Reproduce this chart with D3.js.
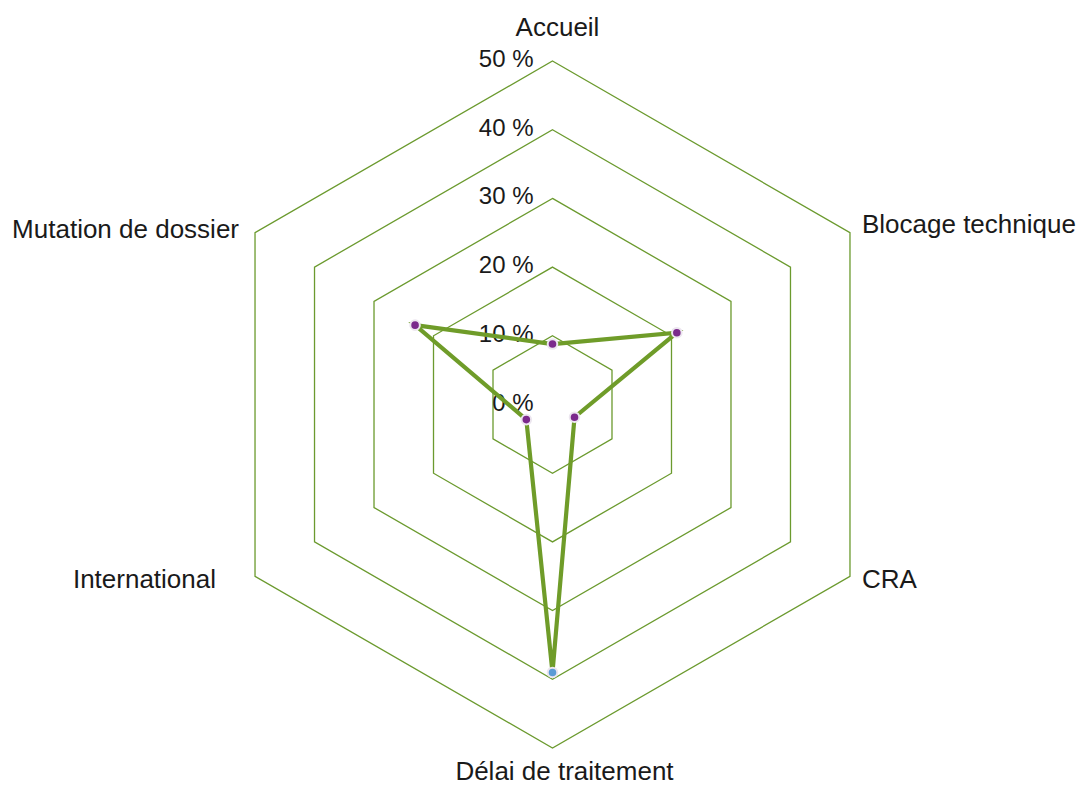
<!DOCTYPE html>
<html><head><meta charset="utf-8">
<script src="https://cdn.jsdelivr.net/npm/d3@7"></script>
<style>
html,body{margin:0;padding:0;background:#fff;}
svg{display:block;font-family:"Liberation Sans",Arial,sans-serif;}
</style></head>
<body>
<svg id="chart" width="1079" height="785"></svg>
<script>
const categories = ["Accueil","Blocage technique","CRA","Délai de traitement","International","Mutation de dossier"];
const values = [8.8, 20.9, 3.7, 39.0, 4.4, 23.1];
const tickValues = [0, 10, 20, 30, 40, 50];
const tickLabels = ["0 %","10 %","20 %","30 %","40 %","50 %"];
const highlightIndex = 3;

const svg = d3.select("#chart");
const cx = 552.5, cy = 404.5, R = 343.5;
const r = d3.scaleLinear().domain([0, 50]).range([0, R]);
const angle = d3.scaleLinear().domain([0, categories.length]).range([0, 2*Math.PI]);
const pt = (i, v) => [cx + r(v)*Math.sin(angle(i)), cy - r(v)*Math.cos(angle(i))];

const gridColor = "#6b9a2e", lineColor = "#6f9c29";

// grid hexagons
const g = svg.append("g");
g.selectAll("path.grid").data(tickValues.filter(t=>t>0)).enter().append("path")
  .attr("d", t => d3.line()(categories.map((c,i)=>pt(i,t))) + "Z")
  .attr("fill","none").attr("stroke",gridColor).attr("stroke-width",1.3);

// tick labels
g.selectAll("text.tick").data(tickValues).enter().append("text")
  .attr("x", cx - 19).attr("y", t => cy - r(t) + 6)
  .attr("text-anchor","end").attr("font-size",24).attr("fill","#1a1a1a")
  .text((t,i)=>tickLabels[i]);

// data line
const poly = categories.map((c,i)=>pt(i, values[i]));
g.append("path").attr("d", d3.line()(poly) + "Z")
  .attr("fill","none").attr("stroke",lineColor).attr("stroke-width",4.2)
  .attr("stroke-linejoin","miter");

// points
g.selectAll("circle").data(values).enter().append("circle")
  .attr("cx",(v,i)=>pt(i,v)[0]).attr("cy",(v,i)=>pt(i,v)[1])
  .attr("r",4.8)
  .attr("fill",(v,i)=> i===highlightIndex ? "#5b9bd5" : "#7b2a8c")
  .attr("stroke","#ece6ef").attr("stroke-width",2);

// category labels
const labelAdj = [
  {dx:5, dy:-25, a:"middle"},
  {dx:12, dy:0, a:"start"},
  {dx:12, dy:12, a:"start"},
  {dx:12, dy:32, a:"middle"},
  {dx:-39, dy:12, a:"end"},
  {dx:-16, dy:5, a:"end"}
];
g.selectAll("text.cat").data(categories).enter().append("text")
  .attr("x",(c,i)=>pt(i,50)[0] + labelAdj[i].dx)
  .attr("y",(c,i)=>pt(i,50)[1] + labelAdj[i].dy)
  .attr("text-anchor",(c,i)=>labelAdj[i].a)
  .attr("font-size",26).attr("fill","#1a1a1a")
  .text(c=>c);
</script>
</body></html>
